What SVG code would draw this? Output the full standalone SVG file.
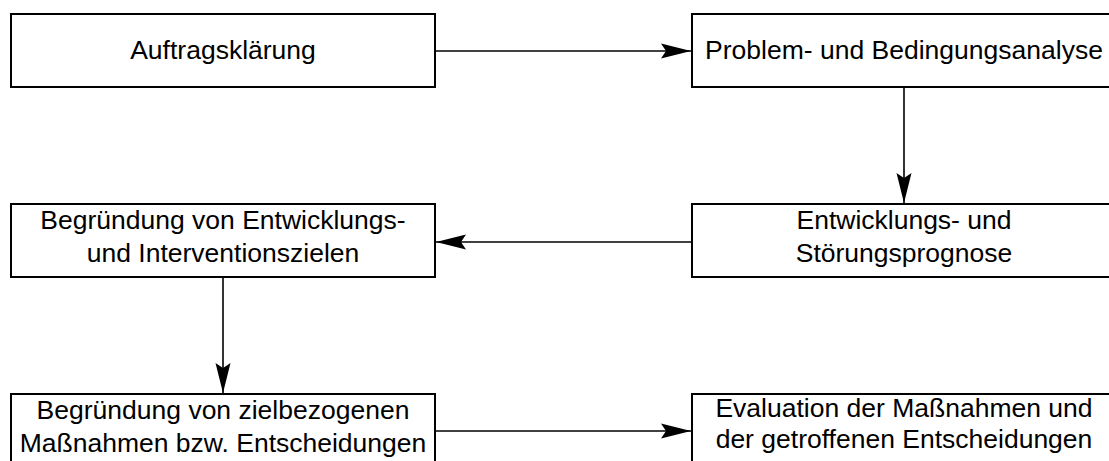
<svg xmlns="http://www.w3.org/2000/svg" width="1109" height="461" viewBox="0 0 1109 461">
<style>
.box{fill:#fff;stroke:#000;stroke-width:2}
.lbl{font-family:"Liberation Sans",Arial,sans-serif;font-size:26.5px;fill:#000;text-anchor:middle}
.conn{stroke:#000;stroke-width:1.6;fill:none;marker-end:url(#ah)}
</style>
<defs>
<marker id="ah" markerUnits="userSpaceOnUse" markerWidth="34" markerHeight="20" viewBox="-32 -10 34 20" refX="0" refY="0" orient="auto">
<path d="M0,0 L-30,-7.5 L-25,0 L-30,7.5 Z" fill="#000"/>
</marker>
</defs>
<rect width="1109" height="461" fill="#fff"/>
<g id="connectors">
<line class="conn" x1="435" y1="51" x2="691" y2="51"/>
<line class="conn" x1="904" y1="87" x2="904" y2="203"/>
<line class="conn" x1="692" y1="242" x2="436" y2="242"/>
<line class="conn" x1="223" y1="277" x2="223" y2="393"/>
<line class="conn" x1="435" y1="431" x2="691" y2="431"/>
</g>
<g id="n1">
<rect class="box" x="11" y="14" width="424" height="73"/>
<text class="lbl" x="223" y="59">Auftragsklärung</text>
</g>
<g id="n2">
<rect class="box" x="692" y="14" width="424" height="73"/>
<text class="lbl" x="904" y="59">Problem- und Bedingungsanalyse</text>
</g>
<g id="n3">
<rect class="box" x="11" y="204" width="424" height="73"/>
<text class="lbl" x="223" y="229">Begründung von Entwicklungs-</text>
<text class="lbl" x="223" y="262">und Interventionszielen</text>
</g>
<g id="n4">
<rect class="box" x="692" y="204" width="424" height="73"/>
<text class="lbl" x="904" y="229">Entwicklungs- und</text>
<text class="lbl" x="904" y="262">Störungsprognose</text>
</g>
<g id="n5">
<rect class="box" x="11" y="394" width="424" height="73"/>
<text class="lbl" x="223" y="419">Begründung von zielbezogenen</text>
<text class="lbl" x="223" y="452">Maßnahmen bzw. Entscheidungen</text>
</g>
<g id="n6">
<rect class="box" x="692" y="394" width="424" height="73"/>
<text class="lbl" x="904" y="417">Evaluation der Maßnahmen und</text>
<text class="lbl" x="904" y="448">der getroffenen Entscheidungen</text>
</g>
</svg>
